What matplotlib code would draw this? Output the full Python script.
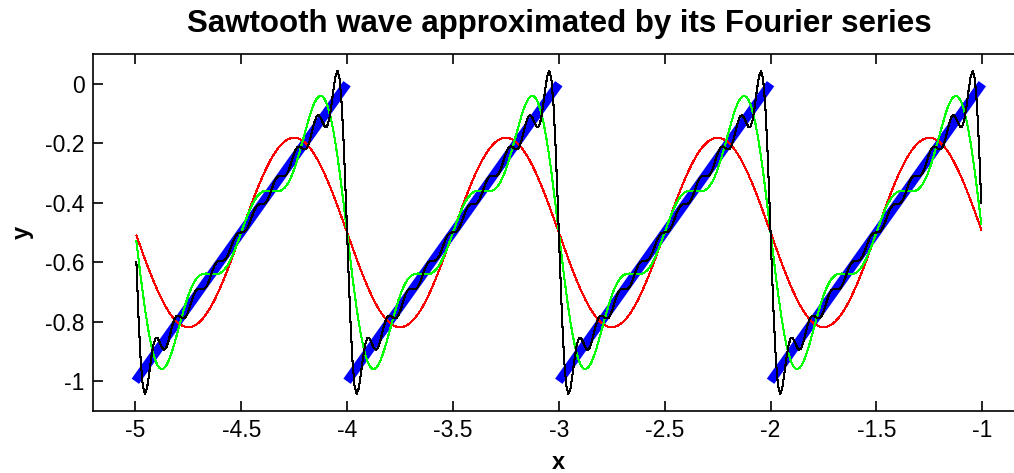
import numpy as np
import matplotlib
matplotlib.use("Agg")
import matplotlib.pyplot as plt

# ---- data ----
x_start, x_end, x_step = -4.995, -1.005, 0.01
period_starts = [-5, -4, -3, -2]          # sawtooth teeth start
tooth_low, tooth_high = -1.0, 0.0          # value range of each tooth
harmonics = [1, 3, 10]                     # number of Fourier terms per curve
curve_colors = ["#ff0000", "#00ff00", "#000000"]
xticks = [-5, -4.5, -4, -3.5, -3, -2.5, -2, -1.5, -1]
xticklabels = ["-5", "-4.5", "-4", "-3.5", "-3", "-2.5", "-2", "-1.5", "-1"]
yticks = [0, -0.2, -0.4, -0.6, -0.8, -1]
yticklabels = ["0", "-0.2", "-0.4", "-0.6", "-0.8", "-1"]
title = "Sawtooth wave approximated by its Fourier series"

plt.rcParams["font.family"] = ["Liberation Sans", "DejaVu Sans"]

fig = plt.figure(figsize=(10.14, 4.73), dpi=100)
ax = fig.add_axes([0.0917, 0.131, 1.0105 - 0.0917, 0.886 - 0.131])

# sawtooth (thick blue)
for s in period_starts:
    ax.plot([s, s + 1], [tooth_low, tooth_high], color="#0000ff", lw=6.5,
            solid_capstyle="butt", zorder=2)

# Fourier partial sums
x = np.arange(x_start, x_end + x_step / 2, x_step)
mean = (tooth_low + tooth_high) / 2
amp = tooth_high - tooth_low
for n, c in zip(harmonics, curve_colors):
    k = np.arange(1, n + 1)[:, None]
    y = mean - amp * np.sum(np.sin(2 * np.pi * k * x) / (np.pi * k), axis=0)
    ax.plot(x, y, color=c, lw=0.75, zorder=3, antialiased=False)

ax.set_xlim(-5.2, -0.8)
ax.set_ylim(-1.1, 0.1)
ax.set_xticks(xticks)
ax.set_xticklabels(xticklabels)
ax.set_yticks(yticks)
ax.set_yticklabels(yticklabels)
ax.tick_params(direction="in", length=7, width=1.2, top=True, right=True,
               labelsize=16.5, pad=6)
for sp in ax.spines.values():
    sp.set_linewidth(1.2)
ax.set_title(title, fontsize=22.5, fontweight="bold", pad=16)
ax.set_xlabel("x", fontsize=17, fontweight="bold", labelpad=6)
ax.set_ylabel("y", fontsize=17, fontweight="bold", labelpad=8)

fig.savefig("out.png", dpi=100)
